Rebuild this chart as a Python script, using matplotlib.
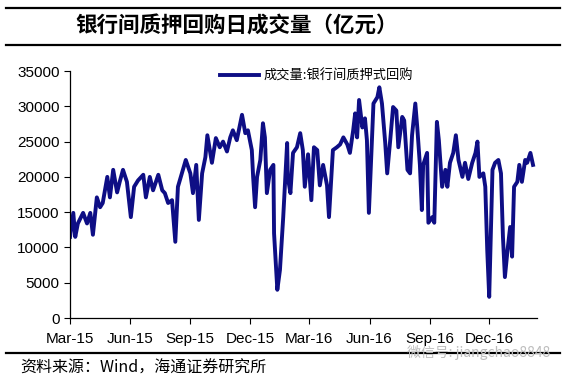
import pandas as pd
import matplotlib
matplotlib.use("Agg")
import matplotlib.pyplot as plt
import matplotlib.dates as mdates
from matplotlib.lines import Line2D

plt.rcParams["font.family"] = ["Liberation Sans", "Noto Sans CJK SC", "DejaVu Sans"]

# ── data (亿元) ───────────────────────────────────────────────────────────────
DATES = [
    "2015-03-01", "2015-03-06", "2015-03-09", "2015-03-13", "2015-03-21", "2015-03-27",
    "2015-04-01", "2015-04-05", "2015-04-11", "2015-04-16", "2015-04-20", "2015-04-27",
    "2015-05-01", "2015-05-06", "2015-05-12", "2015-05-16", "2015-05-21", "2015-05-27",
    "2015-06-02", "2015-06-07", "2015-06-13", "2015-06-21", "2015-06-25",
    "2015-07-01", "2015-07-06", "2015-07-14", "2015-07-20", "2015-07-24", "2015-07-29",
    "2015-08-04", "2015-08-09", "2015-08-13", "2015-08-19", "2015-08-25",
    "2015-09-01", "2015-09-05", "2015-09-10", "2015-09-14", "2015-09-19", "2015-09-24", "2015-09-27",
    "2015-10-04", "2015-10-10", "2015-10-16", "2015-10-21", "2015-10-27",
    "2015-11-01", "2015-11-05", "2015-11-11", "2015-11-19", "2015-11-24", "2015-11-28",
    "2015-12-04", "2015-12-06", "2015-12-09", "2015-12-12", "2015-12-17", "2015-12-21",
    "2015-12-24", "2015-12-27",
    "2016-01-01", "2016-01-06", "2016-01-07", "2016-01-12", "2016-01-16", "2016-01-21",
    "2016-01-27", "2016-01-28",
    "2016-02-01", "2016-02-05", "2016-02-11", "2016-02-16", "2016-02-20", "2016-02-23", "2016-02-28",
    "2016-03-04", "2016-03-08", "2016-03-13", "2016-03-17", "2016-03-22", "2016-03-28", "2016-03-31",
    "2016-04-06", "2016-04-12", "2016-04-17", "2016-04-22", "2016-04-28",
    "2016-05-02", "2016-05-07", "2016-05-10", "2016-05-13", "2016-05-16", "2016-05-21",
    "2016-05-25", "2016-05-28", "2016-05-31",
    "2016-06-07", "2016-06-13", "2016-06-16", "2016-06-20", "2016-06-25", "2016-06-28",
    "2016-07-03", "2016-07-07", "2016-07-12", "2016-07-15", "2016-07-21", "2016-07-24", "2016-07-29",
    "2016-08-02", "2016-08-05", "2016-08-10", "2016-08-13", "2016-08-17", "2016-08-20",
    "2016-08-22", "2016-08-28", "2016-08-30",
    "2016-09-05", "2016-09-08", "2016-09-12", "2016-09-15", "2016-09-20", "2016-09-25", "2016-09-28",
    "2016-10-02", "2016-10-07", "2016-10-11", "2016-10-15", "2016-10-21", "2016-10-25", "2016-10-30",
    "2016-11-05", "2016-11-10", "2016-11-13", "2016-11-16", "2016-11-22", "2016-11-25", "2016-11-28",
    "2016-12-01", "2016-12-06", "2016-12-10", "2016-12-15", "2016-12-19", "2016-12-22",
    "2016-12-25", "2016-12-29",
    "2017-01-02", "2017-01-05", "2017-01-08", "2017-01-13", "2017-01-16", "2017-01-20",
    "2017-01-25", "2017-01-28", "2017-02-02", "2017-02-06",
]

VOLUME = [
    11500, 14900, 11500, 13400, 14900, 13400,
    14900, 11800, 17100, 15700, 16300, 20000,
    17100, 21000, 17800, 19300, 21000, 19300,
    14300, 18600, 19500, 20300, 17100,
    20000, 18100, 20300, 18100, 17700, 16300,
    16700, 10800, 18600, 20500, 22400,
    20500, 17700, 21700, 13900, 20500, 22800, 25900,
    22000, 25500, 24200, 25000, 23600,
    25600, 26600, 25200, 28800, 26200, 26600,
    23800, 20000, 15700, 20000, 22400, 27600,
    25600, 17700,
    21000, 21700, 12000, 4000, 6800, 14300,
    24800, 20000,
    17700, 23400, 24200, 26200, 23800, 18600, 23200,
    16700, 24200, 23800, 18800, 21700, 18800, 14300,
    23800, 24200, 24600, 25600, 24600,
    23400, 26600, 29000, 25600, 30900, 27000,
    28300, 25200, 14900,
    30400, 31300, 32700, 30400, 24800, 20500,
    25600, 29900, 29400, 24200, 28500, 28000, 21000,
    20500, 25900, 30400, 27000, 21700, 15300,
    21700, 23400, 13500,
    14300, 13500, 27800, 25200, 18600, 21000, 18600,
    22000, 23400, 25900, 22400, 20000, 22000, 19700,
    22000, 23400, 25000, 20000, 20500, 18600, 9600,
    3000, 21000, 22000, 22400, 20500, 11500,
    5800, 9600,
    12900, 8700, 18600, 19300, 21700, 19300,
    22400, 22000, 23400, 21700,
]

SERIES_NAME = "成交量:银行间质押式回购"
TITLE = "银行间质押回购日成交量（亿元）"
SOURCE = "资料来源：Wind，海通证券研究所"
Y_TICKS = [0, 5000, 10000, 15000, 20000, 25000, 30000, 35000]
X_TICKS = ["2015-03-01", "2015-06-01", "2015-09-01", "2015-12-01",
           "2016-03-01", "2016-06-01", "2016-09-01", "2016-12-01"]

NAVY = "#0e0e85"
CJK = ["Noto Sans CJK SC", "DejaVu Sans"]

df = pd.DataFrame({"date": pd.to_datetime(DATES), "volume": VOLUME})

fig = plt.figure(figsize=(5.67, 3.82), dpi=100)
ax = fig.add_axes([0.1235, 0.1675, 0.8235, 0.6465])

ax.plot(df["date"], df["volume"], color=NAVY, lw=2.8, solid_joinstyle="round",
        label=SERIES_NAME)

ax.set_xlim(pd.Timestamp("2015-03-01"), pd.Timestamp("2017-02-12"))
ax.set_ylim(0, 35000)
ax.set_yticks(Y_TICKS)
ax.set_xticks(pd.to_datetime(X_TICKS))
ax.xaxis.set_major_formatter(mdates.DateFormatter("%b-%y"))
ax.tick_params(axis="both", labelsize=11, length=4, width=0.8, direction="out")
ax.tick_params(axis="x", pad=6)

for side in ("top", "right"):
    ax.spines[side].set_visible(False)
for side in ("left", "bottom"):
    ax.spines[side].set_linewidth(0.9)

leg = ax.legend(loc="upper left", bbox_to_anchor=(0.295, 1.055), frameon=False,
                handlelength=3.0, handletextpad=0.35, prop={"family": CJK, "size": 9.5})

# ── header / footer rules and texts ──────────────────────────────────────────
for y in (0.979, 0.882, 0.076):
    fig.add_artist(Line2D([0.01, 0.988], [y, y], color="black", lw=1.6))

fig.text(0.132, 0.932, TITLE, fontsize=15.5, fontweight="heavy", family=CJK,
         va="center", ha="left")
fig.text(0.035, 0.035, SOURCE, fontsize=11.5, family=CJK, va="center", ha="left")
fig.text(0.97, 0.076, "微信号: jiangchao8848", fontsize=10, family=CJK,
         color="#bdbdbd", va="center", ha="right")

plt.savefig("out.png", dpi=100)
plt.close()
